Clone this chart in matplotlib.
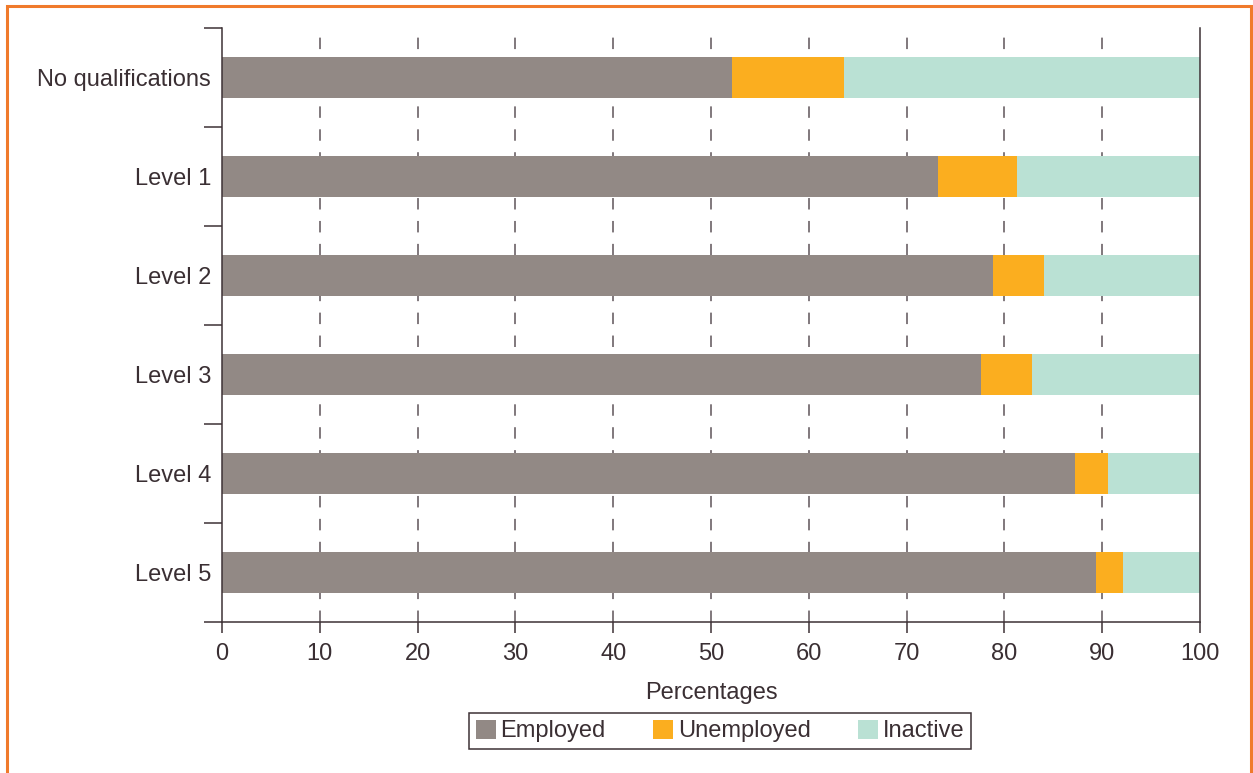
import matplotlib
matplotlib.use("Agg")
import matplotlib.pyplot as plt
from matplotlib.patches import Rectangle, Patch
import numpy as np

categories = ["No qualifications", "Level 1", "Level 2", "Level 3", "Level 4", "Level 5"]
employed = [52.1, 73.2, 78.8, 77.6, 87.2, 89.4]
unemployed = [11.5, 8.1, 5.2, 5.2, 3.4, 2.7]
inactive = [100 - e - u for e, u in zip(employed, unemployed)]
series_names = ["Employed", "Unemployed", "Inactive"]
colors = ["#928985", "#FBAE1F", "#BAE1D4"]
xticks = [0, 10, 20, 30, 40, 50, 60, 70, 80, 90, 100]

plt.rcParams['font.family'] = ['Liberation Sans', 'DejaVu Sans']
txt = "#3a2f33"
spine_c = "#3d3236"
fs = 17

fig = plt.figure(figsize=(12.53, 7.73), dpi=100)
W, H = 1253, 773
ax = fig.add_axes([222 / W, 1 - 622 / H, (1200 - 222) / W, (622 - 28) / H])

y = np.arange(len(categories))
left = np.zeros(len(categories))
for vals, name, c in zip([employed, unemployed, inactive], series_names, colors):
    ax.barh(y, vals, left=left, height=0.42, color=c, label=name, zorder=2)
    left = left + np.array(vals)

ax.set_xlim(0, 100)
ax.set_ylim(len(categories) - 0.5, -0.5)

for xv in xticks[1:-1]:
    ax.axvline(xv, color="#5e5458", lw=1.1, linestyle=(0, (7.5, 7.5)), zorder=1)

ax.set_xticks(xticks)
ax.set_xticklabels([str(v) for v in xticks])
ax.tick_params(axis='x', direction='out', length=8, width=1.1, color=spine_c,
               labelsize=fs, labelcolor=txt, pad=7)

ax.set_yticks(np.arange(-0.5, len(categories), 1.0))
ax.set_yticklabels([])
ax.tick_params(axis='y', which='major', direction='out', length=13, width=1.1, color=spine_c)
ax.set_yticks(y, minor=True)
ax.set_yticklabels(categories, minor=True)
ax.tick_params(axis='y', which='minor', length=0, labelsize=fs, labelcolor=txt, pad=8)

for s in ['left', 'bottom', 'right']:
    ax.spines[s].set_color(spine_c)
    ax.spines[s].set_linewidth(1.1)
ax.spines['top'].set_visible(False)

ax.set_xlabel("Percentages", fontsize=fs, color=txt, labelpad=12)

handles = [Patch(facecolor=c, edgecolor='none') for c in colors]
leg = fig.legend(handles, series_names, loc='center', bbox_to_anchor=(720 / W, 1 - 731 / H),
                 ncol=3, fontsize=fs, frameon=True, fancybox=False, framealpha=1,
                 edgecolor=spine_c, handlelength=0.85, handleheight=0.85,
                 handletextpad=0.2, columnspacing=2.0, borderpad=0.3, labelcolor=txt)
leg.get_frame().set_linewidth(1.1)

fig.patches.append(Rectangle((6.5 / W, -0.05), (1250.5 - 6.5) / W, (1 - 5.5 / H) + 0.05,
                             transform=fig.transFigure, fill=False,
                             edgecolor="#F07A2B", linewidth=2.2))

fig.savefig("out.png", dpi=100)
